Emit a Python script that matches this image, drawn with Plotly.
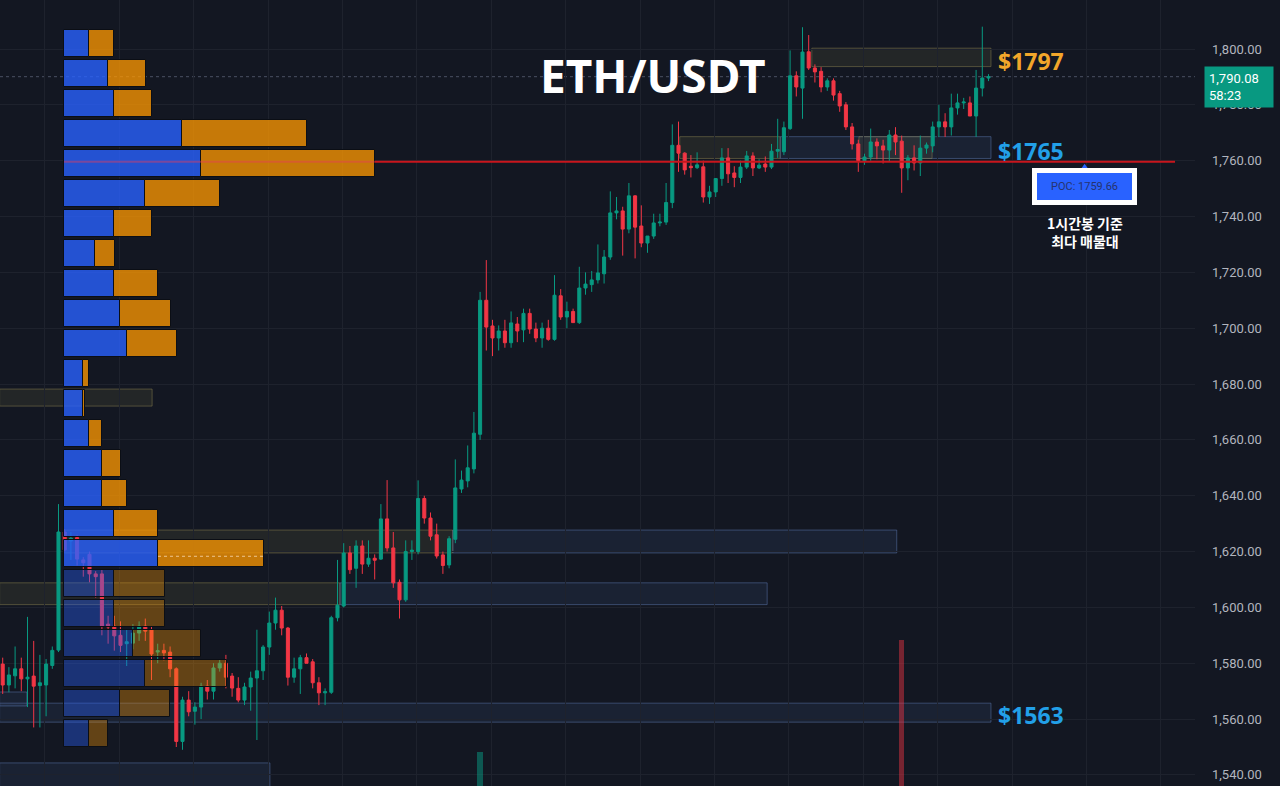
import plotly.graph_objects as go

# ---------------- data ----------------
opens = [1579.7, 1572.2, 1575.5, 1578.0, 1574.4, 1575.4, 1572.0, 1572.2, 1579.2, 1584.7,
         1627.0, 1623.8, 1625.0, 1617.0, 1619.0, 1612.0, 1612.0, 1594.0, 1593.3, 1590.0,
         1587.0, 1587.2, 1590.8, 1593.3, 1591.9, 1584.0, 1584.6, 1584.0, 1578.0, 1552.0,
         1566.8, 1562.8, 1564.3, 1571.8, 1570.0, 1578.3, 1580.0, 1575.4, 1571.0, 1566.8,
         1571.5, 1574.7, 1577.3, 1585.8, 1594.4, 1599.0, 1592.6, 1575.0, 1578.0, 1582.0,
         1580.5, 1573.0, 1569.4, 1569.6, 1596.3, 1600.5, 1619.5, 1614.0, 1622.0, 1615.5,
         1617.6, 1617.3, 1631.7, 1621.3, 1609.0, 1602.7, 1620.0, 1620.0, 1639.0, 1632.0,
         1626.0, 1618.8, 1615.2, 1624.4, 1642.4, 1645.3, 1649.6, 1662.0, 1710.0, 1700.8,
         1696.5, 1699.0, 1694.8, 1701.5, 1699.4, 1705.3, 1699.7, 1696.5, 1700.0, 1696.0,
         1711.6, 1704.0, 1706.0, 1702.0, 1714.4, 1715.6, 1717.3, 1719.5, 1725.5, 1741.3,
         1742.0, 1735.5, 1747.4, 1736.6, 1730.5, 1733.0, 1737.7, 1738.0, 1745.0, 1765.5,
         1762.7, 1758.0, 1757.5, 1757.8, 1747.0, 1748.8, 1753.6, 1761.0, 1755.6, 1754.0,
         1757.7, 1761.7, 1757.4, 1758.8, 1757.7, 1763.4, 1763.2, 1771.5, 1790.4, 1786.0,
         1799.0, 1793.2, 1792.0, 1786.4, 1788.6, 1784.0, 1780.0, 1772.1, 1766.0, 1760.0,
         1761.3, 1766.7, 1765.3, 1763.8, 1769.2, 1767.0, 1757.4, 1761.0, 1759.2, 1764.5,
         1765.3, 1772.1, 1773.9, 1772.1, 1778.9, 1780.7, 1780.7, 1776.0, 1786.0, 1789.6]
highs = [1582.0, 1578.6, 1586.0, 1582.0, 1596.6, 1588.0, 1583.0, 1581.5, 1586.0, 1637.0,
         1628.0, 1627.0, 1626.0, 1618.0, 1620.0, 1613.0, 1613.5, 1597.0, 1597.0, 1595.0,
         1592.0, 1594.0, 1595.0, 1596.0, 1593.0, 1587.0, 1587.0, 1586.0, 1578.5, 1568.0,
         1570.0, 1566.0, 1573.0, 1574.0, 1580.0, 1581.5, 1583.0, 1576.5, 1575.0, 1573.0,
         1577.0, 1592.0, 1586.5, 1598.5, 1603.5, 1600.5, 1593.0, 1582.0, 1583.0, 1583.5,
         1581.5, 1575.0, 1571.0, 1597.0, 1617.0, 1623.0, 1622.0, 1624.0, 1624.0, 1624.0,
         1619.0, 1637.0, 1645.6, 1627.0, 1610.0, 1624.0, 1624.0, 1645.5, 1640.0, 1634.0,
         1630.0, 1620.0, 1625.5, 1653.0, 1649.0, 1658.0, 1670.0, 1713.0, 1724.4, 1703.0,
         1701.0, 1703.0, 1706.0, 1704.0, 1707.0, 1707.0, 1702.0, 1702.0, 1703.0, 1719.0,
         1714.0, 1709.5, 1707.0, 1722.0, 1720.0, 1720.5, 1730.0, 1728.0, 1749.0, 1747.0,
         1743.5, 1752.0, 1747.6, 1744.0, 1732.0, 1741.0, 1741.0, 1752.0, 1773.0, 1774.0,
         1763.0, 1762.0, 1763.0, 1760.0, 1751.0, 1752.0, 1764.5, 1764.5, 1758.0, 1760.0,
         1763.5, 1763.0, 1760.5, 1761.5, 1766.0, 1775.0, 1774.0, 1799.5, 1792.0, 1807.8,
         1805.0, 1794.5, 1793.5, 1789.5, 1789.5, 1785.0, 1781.0, 1773.5, 1767.5, 1762.5,
         1771.5, 1768.0, 1767.5, 1771.0, 1772.0, 1769.0, 1762.0, 1765.5, 1769.0, 1766.5,
         1774.0, 1780.0, 1777.0, 1784.0, 1784.0, 1782.5, 1783.0, 1792.5, 1808.0, 1791.0]
lows = [1569.0, 1569.6, 1571.0, 1570.0, 1564.3, 1557.0, 1557.0, 1561.0, 1578.0, 1584.0,
        1620.0, 1617.0, 1615.0, 1611.0, 1609.0, 1603.5, 1590.0, 1587.0, 1584.5, 1584.0,
        1579.0, 1585.0, 1588.0, 1588.0, 1574.0, 1580.0, 1581.0, 1575.0, 1550.0, 1549.0,
        1561.0, 1558.0, 1560.0, 1567.0, 1567.0, 1577.0, 1571.0, 1568.0, 1566.0, 1565.0,
        1563.0, 1552.5, 1574.0, 1583.0, 1592.0, 1590.0, 1572.0, 1573.0, 1569.0, 1580.0,
        1571.0, 1565.0, 1565.0, 1569.0, 1595.0, 1600.0, 1612.0, 1607.0, 1612.0, 1614.5,
        1610.0, 1617.0, 1620.0, 1607.0, 1596.0, 1602.0, 1617.0, 1619.0, 1630.0, 1624.0,
        1617.5, 1612.0, 1614.0, 1623.0, 1641.0, 1643.0, 1648.0, 1660.0, 1692.0, 1690.0,
        1692.0, 1693.0, 1693.0, 1695.0, 1695.0, 1698.0, 1695.0, 1693.0, 1695.5, 1695.5,
        1703.0, 1700.0, 1702.0, 1701.5, 1712.0, 1713.0, 1716.0, 1716.0, 1724.5, 1739.0,
        1726.0, 1734.0, 1725.0, 1729.0, 1727.0, 1732.0, 1736.5, 1737.0, 1743.0, 1756.0,
        1755.0, 1754.0, 1757.0, 1745.0, 1744.5, 1747.0, 1751.0, 1752.0, 1750.5, 1752.0,
        1757.0, 1754.5, 1757.0, 1756.0, 1757.0, 1761.0, 1762.0, 1771.0, 1783.0, 1775.0,
        1792.5, 1788.0, 1784.5, 1785.0, 1781.5, 1777.5, 1771.0, 1764.0, 1756.0, 1758.5,
        1760.0, 1760.5, 1759.0, 1759.5, 1762.0, 1748.5, 1753.0, 1756.5, 1754.5, 1762.5,
        1763.0, 1768.5, 1768.5, 1769.0, 1776.5, 1778.5, 1776.0, 1768.5, 1783.0, 1788.5]
closes = [1572.2, 1575.8, 1578.0, 1574.4, 1575.0, 1571.8, 1573.0, 1579.7, 1584.6, 1627.0,
          1620.6, 1624.8, 1617.3, 1616.0, 1612.0, 1611.0, 1593.3, 1593.0, 1589.8, 1586.4,
          1587.7, 1590.8, 1593.3, 1591.5, 1583.3, 1584.5, 1583.7, 1578.0, 1552.0, 1566.8,
          1562.6, 1564.3, 1571.8, 1570.0, 1578.3, 1580.0, 1575.0, 1571.1, 1566.8, 1571.5,
          1574.7, 1577.3, 1585.8, 1594.4, 1599.0, 1592.6, 1575.0, 1578.0, 1582.0, 1580.0,
          1573.0, 1569.4, 1569.8, 1596.3, 1600.8, 1619.5, 1613.5, 1622.0, 1615.5, 1617.6,
          1616.9, 1631.7, 1621.3, 1608.8, 1602.7, 1620.0, 1620.5, 1639.0, 1632.0, 1625.5,
          1618.4, 1615.0, 1624.6, 1642.8, 1645.6, 1650.0, 1662.4, 1710.0, 1700.4, 1696.5,
          1699.0, 1694.8, 1701.9, 1699.0, 1705.3, 1699.7, 1696.5, 1700.0, 1696.0, 1711.8,
          1704.0, 1706.0, 1702.0, 1714.4, 1715.8, 1717.3, 1719.8, 1725.5, 1741.3, 1742.0,
          1735.5, 1747.4, 1736.2, 1730.5, 1733.0, 1737.7, 1738.0, 1745.0, 1765.5, 1762.7,
          1756.7, 1757.5, 1758.5, 1747.0, 1748.8, 1753.6, 1761.0, 1755.3, 1754.0, 1757.7,
          1761.7, 1757.4, 1758.4, 1757.7, 1763.4, 1764.0, 1771.8, 1790.4, 1786.4, 1798.9,
          1793.2, 1791.8, 1786.4, 1788.6, 1783.5, 1779.6, 1772.1, 1766.0, 1760.0, 1761.3,
          1766.7, 1765.3, 1763.8, 1769.2, 1766.7, 1757.4, 1761.0, 1759.2, 1764.5, 1765.6,
          1772.1, 1773.9, 1772.1, 1778.9, 1780.7, 1781.0, 1776.0, 1786.0, 1789.6, 1790.08]

# visible volume bars (only the two tallest reach into view)
vol_index = [77, 145]
vol_value = [95, 165]

# volume profile (fixed range, anchored at bar 10), top row first
profile_levels = [1801.97, 1791.23, 1780.48, 1769.74, 1758.99, 1748.25, 1737.50, 1726.76,
                  1716.01, 1705.27, 1694.52, 1683.78, 1673.03, 1662.29, 1651.54, 1640.80,
                  1630.05, 1619.31, 1608.56, 1597.82, 1587.07, 1576.33, 1565.58, 1554.84]
profile_up = [25, 44, 50, 118, 137, 81, 50, 31, 50, 56, 63, 19,
              19, 25, 38, 38, 50, 94, 50, 50, 69, 81, 56, 25]
profile_down = [25, 38, 38, 125, 174, 75, 38, 20, 44, 51, 50, 6,
                2, 13, 19, 25, 44, 106, 51, 51, 68, 82, 50, 19]
bin_size = 10.745
value_area_high = 1807.3
value_area_low = 1613.9
poc_price = 1759.66
last_price = 1790.08
countdown = "58:23"

# zones: (start bar, end bar, low price, high price, kind)
zones = [
    (130.5, 159.4, 1793.7, 1800.3, "supply"),
    (109.2, 125.4, 1760.8, 1768.6, "supply"),
    (125.4, 159.4, 1760.8, 1768.6, "demand"),
    (138.1, 149.9, 1760.8, 1768.6, "supply"),
    (-0.5, 24.1, 1672.1, 1678.2, "supply"),
    (9.9, 72.6, 1619.5, 1627.7, "supply"),
    (72.6, 144.2, 1619.5, 1627.7, "demand"),
    (-0.5, 54.4, 1601.0, 1608.8, "supply"),
    (54.4, 123.3, 1601.0, 1608.8, "demand"),
    (-0.5, 159.4, 1558.9, 1565.7, "demand"),
    (-0.5, 3.9, 1564.7, 1569.7, "demand"),
    (-0.5, 43.1, 1530.0, 1544.3, "demand"),
]
level_labels = [("$1797", 1797, "#f2a62a"), ("$1765", 1765, "#22a0e8"), ("$1563", 1563, "#22a0e8")]

# ---------------- styles ----------------
BG = "#131722"
GRID = "#1e222d"
UP = "#089981"
DN = "#F23645"
PX_PER_BAR = 6.2
PLOT_W = 1195
X0 = -2.7 / PX_PER_BAR
X1 = X0 + PLOT_W / PX_PER_BAR
Y_RANGE = [1536.03, 1817.55]

bars = list(range(len(opens)))

fig = go.Figure()

fig.add_trace(go.Candlestick(
    x=bars, open=opens, high=highs, low=lows, close=closes,
    increasing=dict(line=dict(color=UP, width=1), fillcolor=UP),
    decreasing=dict(line=dict(color=DN, width=1), fillcolor=DN),
    whiskerwidth=0, showlegend=False, hoverinfo="skip"))

fig.add_trace(go.Bar(
    x=vol_index, y=vol_value, yaxis="y3", width=0.85,
    marker=dict(color=["rgba(8,153,129,0.5)" if closes[i] >= opens[i] else "rgba(242,54,69,0.45)" for i in vol_index],
                line=dict(width=0)),
    showlegend=False, hoverinfo="skip"))

in_va = [value_area_low <= p <= value_area_high for p in profile_levels]
up_cols = ["rgba(41,98,255,0.8)" if v else "rgba(41,98,255,0.38)" for v in in_va]
dn_cols = ["rgba(255,152,0,0.76)" if v else "rgba(255,152,0,0.34)" for v in in_va]

fig.add_trace(go.Bar(
    y=profile_levels, x=profile_up, base=[0] * len(profile_up), orientation="h",
    xaxis="x2", yaxis="y", width=bin_size * 0.9,
    marker=dict(color=up_cols, line=dict(color="#0b0e15", width=1)),
    showlegend=False, hoverinfo="skip"))
fig.add_trace(go.Bar(
    y=profile_levels, x=profile_down, base=profile_up, orientation="h",
    xaxis="x2", yaxis="y", width=bin_size * 0.9,
    marker=dict(color=dn_cols, line=dict(color="#0b0e15", width=1)),
    showlegend=False, hoverinfo="skip"))

shapes = []
for x0, x1, lo, hi, kind in zones:
    if kind == "supply":
        fc, lc = "rgba(150,140,80,0.13)", "rgba(150,140,85,0.45)"
    else:
        fc, lc = "rgba(80,110,170,0.13)", "rgba(100,130,190,0.45)"
    shapes.append(dict(type="rect", xref="x", yref="y", x0=x0, x1=x1, y0=lo, y1=hi,
                       fillcolor=fc, line=dict(color=lc, width=1), layer="below"))

# current price dotted line
shapes.append(dict(type="line", xref="paper", yref="y", x0=0, x1=1, y0=last_price, y1=last_price,
                   line=dict(color="#4a5063", width=1, dash="dot"), layer="below"))

# POC line
poc_row = max(range(len(profile_levels)), key=lambda k: profile_up[k] + profile_down[k])
poc_end = profile_up[poc_row] + profile_down[poc_row]
shapes.append(dict(type="line", xref="x2", yref="y", x0=0, x1=poc_end, y0=poc_price, y1=poc_price,
                   line=dict(color="rgba(230,60,90,0.45)", width=2)))
shapes.append(dict(type="line", xref="x2", yref="y", x0=poc_end, x1=1111, y0=poc_price, y1=poc_price,
                   line=dict(color="#c8161d", width=2)))
# dotted mark in row 18
r18 = 17
shapes.append(dict(type="line", xref="x2", yref="y", x0=profile_up[r18], x1=profile_up[r18] + profile_down[r18],
                   y0=profile_levels[r18] - 1.0, y1=profile_levels[r18] - 1.0,
                   line=dict(color="rgba(255,230,200,0.7)", width=1, dash="dot")))

# POC label pointer
px = 174.5
shapes.append(dict(type="path", xref="x", yref="y",
                   path=f"M {px-0.8},1756.4 L {px},1758.9 L {px+0.8},1756.4 Z",
                   fillcolor="#2962ff", line=dict(width=0)))

annotations = [
    dict(text="<b>ETH/USDT</b>", xref="paper", yref="paper", x=653 / PLOT_W, y=1 - 75 / 786,
         showarrow=False, font=dict(family="Noto Sans", size=46, color="white"),
         xanchor="center", yanchor="middle"),
    dict(text="POC: 1759.66", xref="x", yref="y", x=px, y=1750.9, showarrow=False,
         font=dict(family="Roboto", size=11, color="#26336e"),
         bgcolor="#2962ff", bordercolor="white", borderwidth=5, borderpad=3,
         width=89, height=21, xanchor="center", yanchor="middle"),
    dict(text="<b>1시간봉 기준<br>최다 매물대</b>", xref="x", yref="y", x=px, y=1734.3, showarrow=False,
         font=dict(family="Noto Sans CJK KR", size=14, color="white"), align="center",
         xanchor="center", yanchor="middle"),
    dict(text=f"{last_price:,.2f}<br>{countdown}", xref="paper", yref="y", x=1, y=last_price,
         xanchor="left", yanchor="top", xshift=9, yshift=11, showarrow=False, align="left",
         font=dict(family="Roboto", size=13, color="white"), bgcolor=UP, borderpad=4, width=60),
]
for txt, val, col in level_labels:
    annotations.append(dict(text=f"<b>{txt}</b>", xref="x", yref="y", x=160.2, y=val, yshift=-4,
                            xanchor="left", yanchor="middle", showarrow=False,
                            font=dict(family="Noto Sans", size=23, color=col)))

fig.update_layout(
    width=1280, height=786,
    margin=dict(l=0, r=1280 - PLOT_W, t=0, b=0),
    paper_bgcolor=BG, plot_bgcolor=BG,
    showlegend=False, hovermode=False,
    shapes=shapes, annotations=annotations,
    barmode="overlay",
    xaxis=dict(range=[X0, X1], showticklabels=False, rangeslider=dict(visible=False),
               showgrid=True, gridcolor=GRID, gridwidth=1, tick0=6.8, dtick=12,
               zeroline=False, showline=False, ticks=""),
    xaxis2=dict(overlaying="x", anchor="y", range=[-64, PLOT_W - 64], visible=False),
    yaxis=dict(side="right", range=Y_RANGE, dtick=20, tick0=1540, tickformat=",.2f",
               tickfont=dict(family="Roboto", size=13, color="#b2b5be"),
               showgrid=True, gridcolor=GRID, zeroline=False, showline=False, ticks="",
               ticklabelstandoff=16),
    yaxis3=dict(overlaying="y", range=[73.7, 565], visible=False),
    bargap=0,
)

fig.write_html("out.html")
